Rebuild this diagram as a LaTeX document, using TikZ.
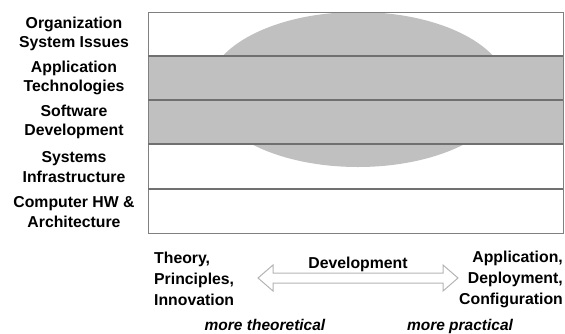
\documentclass[tikz,border=0pt]{standalone}
\usepackage{fontspec}
\setmainfont{Liberation Sans}
\usetikzlibrary{calc}
\begin{document}
\definecolor{bandgray}{HTML}{C0C0C0}
\definecolor{rulegray}{HTML}{707070}
\definecolor{arrowgray}{HTML}{B4B4B4}
\begin{tikzpicture}[x=1pt,y=-1pt,
  lbl/.style={font=\fontsize{15.8}{19.5}\selectfont\bfseries, align=center, inner sep=0pt},
  btxt/.style={font=\fontsize{15.8}{21}\selectfont\bfseries, inner sep=0pt},
  itxt/.style={font=\fontsize{15.5}{17}\selectfont\bfseries\itshape, inner sep=0pt, anchor=base},
  rule/.style={draw=rulegray, line width=1.1pt}]
\useasboundingbox (0,0) rectangle (565,333);
% shaded band and the central ellipse
\fill[bandgray] (148,56) rectangle (563,144);
\fill[bandgray] (358,89.5) ellipse [x radius=150, y radius=77.5];
% layer rules
\draw[draw=gray, line width=1pt] (148,12) rectangle (563,233);
\foreach \yy in {56,100,144,189} \draw[rule] (148,\yy) -- (563,\yy);
% layer names
\node[lbl] (l1) at (74,34)  {Organization\\System Issues};
\node[lbl] (l2) at (74,78)  {Application\\Technologies};
\node[lbl] (l3) at (74,122) {Software\\Development};
\node[lbl] (l4) at (74,167) {Systems\\Infrastructure};
\node[lbl] (l5) at (74,212) {Computer HW \&\\Architecture};
% spectrum at the bottom
\node[btxt, align=left, anchor=west] (theory) at (154,279) {Theory,\\Principles,\\Innovation};
\node[btxt, align=right, anchor=east] (appl) at (563,279) {Application,\\Deployment,\\Configuration};
\node[btxt] (dev) at (358,264) {Development};
\coordinate (tipL) at (258,278);
\coordinate (tipR) at (458,278);
\draw[arrowgray, line width=1pt, fill=white]
  (tipL) -- ++(15,-13) -- ++(0,8) -- ($(tipR)+(-15,-5)$) -- ++(0,-8) -- (tipR)
  -- ++(-15,13) -- ++(0,-8) -- ($(tipL)+(15,5)$) -- ++(0,8) -- cycle;
\node[itxt] (theo) at (265,330) {more theoretical};
\node[itxt] (prac) at (460,330) {more practical};
\end{tikzpicture}
\end{document}
